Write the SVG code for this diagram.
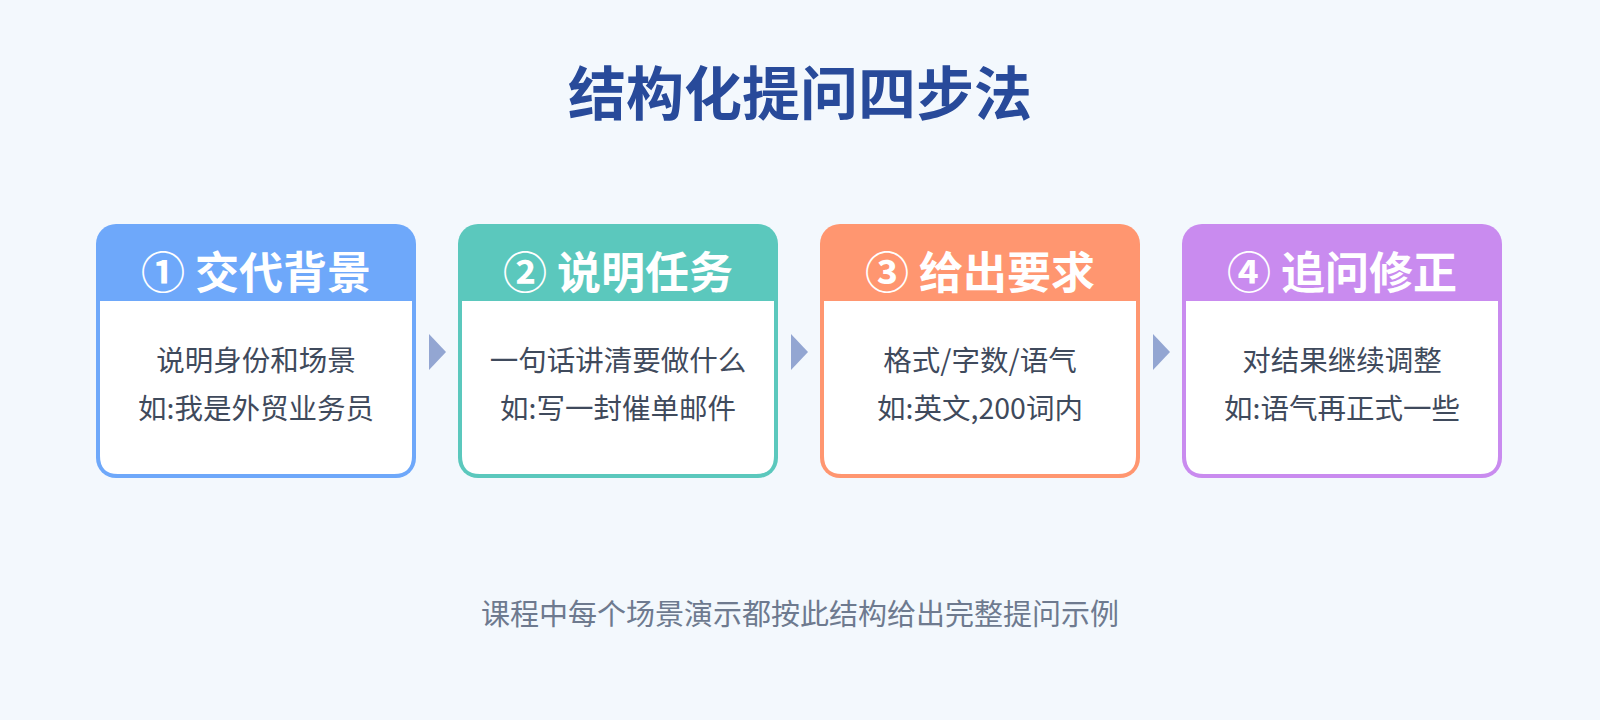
<svg xmlns="http://www.w3.org/2000/svg" width="1600" height="720" viewBox="0 0 1600 720">
<style>
.title{font-family:"Noto Sans CJK SC","Noto Sans",sans-serif;font-weight:700;font-size:58px;fill:#284a9a;text-anchor:middle}
.head{font-family:"Noto Sans CJK SC","Noto Sans",sans-serif;font-weight:700;font-size:44px;fill:#ffffff;text-anchor:middle}
.body{font-family:"Noto Sans CJK SC","Noto Sans",sans-serif;font-size:28.5px;fill:#3f4a5c;text-anchor:middle}
.foot{font-family:"Noto Sans CJK SC","Noto Sans",sans-serif;font-size:29px;fill:#6e7a8f;text-anchor:middle}
.arrow{fill:#93a6d2}
.inner{fill:#ffffff}
</style>
<rect width="1600" height="720" fill="#f3f8fd"/>
<text class="title" x="800" y="115">结构化提问四步法</text>

<g id="connectors">
<polygon class="arrow" points="429,334 446,352 429,370"/>
<polygon class="arrow" points="791,334 808,352 791,370"/>
<polygon class="arrow" points="1153,334 1170,352 1153,370"/>
</g>

<g id="step1">
<rect x="96" y="224" width="320" height="254" rx="20" fill="#6ea8fa"/>
<path class="inner" d="M100,301 H412 V456 Q412,474 394,474 H118 Q100,474 100,456 Z"/>
<text class="head" x="256" y="289">① 交代背景</text>
<text class="body" x="256" y="371">说明身份和场景</text>
<text class="body" x="256" y="419">如:我是外贸业务员</text>
</g>

<g id="step2">
<rect x="458" y="224" width="320" height="254" rx="20" fill="#5bc8bd"/>
<path class="inner" d="M462,301 H774 V456 Q774,474 756,474 H480 Q462,474 462,456 Z"/>
<text class="head" x="618" y="289">② 说明任务</text>
<text class="body" x="618" y="371">一句话讲清要做什么</text>
<text class="body" x="618" y="419">如:写一封催单邮件</text>
</g>

<g id="step3">
<rect x="820" y="224" width="320" height="254" rx="20" fill="#ff9670"/>
<path class="inner" d="M824,301 H1136 V456 Q1136,474 1118,474 H842 Q824,474 824,456 Z"/>
<text class="head" x="980" y="289">③ 给出要求</text>
<text class="body" x="980" y="371">格式/字数/语气</text>
<text class="body" x="980" y="419">如:英文,200词内</text>
</g>

<g id="step4">
<rect x="1182" y="224" width="320" height="254" rx="20" fill="#c98bef"/>
<path class="inner" d="M1186,301 H1498 V456 Q1498,474 1480,474 H1204 Q1186,474 1186,456 Z"/>
<text class="head" x="1342" y="289">④ 追问修正</text>
<text class="body" x="1342" y="371">对结果继续调整</text>
<text class="body" x="1342" y="419">如:语气再正式一些</text>
</g>

<text class="foot" x="800" y="625">课程中每个场景演示都按此结构给出完整提问示例</text>
</svg>
